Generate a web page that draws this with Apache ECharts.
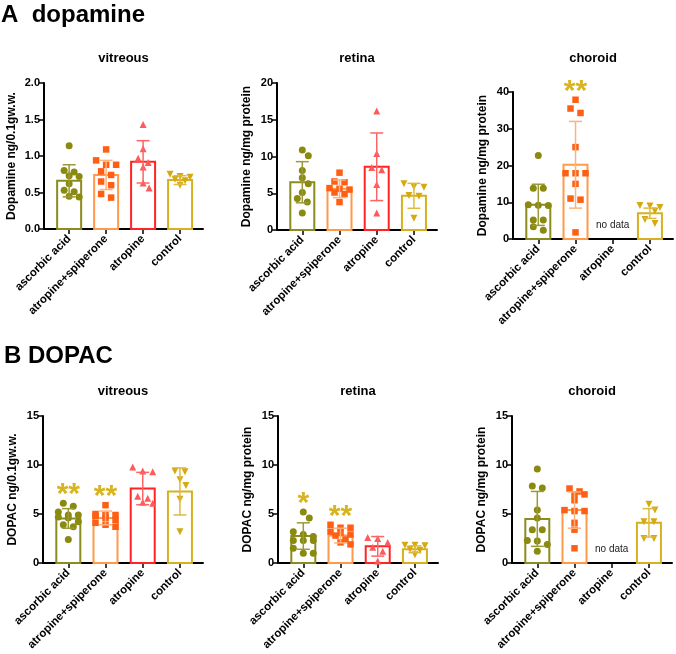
<!DOCTYPE html>
<html><head><meta charset="utf-8">
<script src="https://cdn.jsdelivr.net/npm/echarts@6/dist/echarts.min.js"></script>
<style>html,body{margin:0;padding:0;background:#fff}#c{width:676px;height:654px}</style>
</head><body><div id="c"></div>
<script>
const categories = ['ascorbic acid', 'atropine+spiperone', 'atropine', 'control'];

// ---- A dopamine : vitreous ----
const daVitMean = [0.66, 0.74, 0.92, 0.67];
const daVitSD = [0.22, 0.20, 0.29, 0.06];
const daVitAscorbic = [1.14, 0.80, 0.78, 0.73, 0.72, 0.62, 0.53, 0.51, 0.45, 0.44];
const daVitAtrSpip = [1.09, 0.94, 0.88, 0.88, 0.79, 0.74, 0.65, 0.60, 0.48, 0.43];
const daVitAtropine = [1.43, 1.10, 0.97, 0.91, 0.85, 0.63, 0.56];
const daVitControl = [0.75, 0.72, 0.71, 0.68, 0.66, 0.60];

// ---- A dopamine : retina ----
const daRetMean = [6.5, 5.6, 8.6, 4.65];
const daRetSD = [2.8, 1.2, 4.6, 1.7];
const daRetAscorbic = [10.9, 10.1, 8.1, 7.1, 6.3, 5.1, 4.3, 3.8, 2.3];
const daRetAtrSpip = [7.8, 6.6, 6.5, 5.7, 5.6, 5.5, 5.1, 4.9, 3.8];
const daRetAtropine = [16.2, 10.4, 8.5, 8.2, 6.2, 2.3];
const daRetControl = [6.3, 5.9, 5.8, 4.7, 4.6, 1.6];

// ---- A dopamine : choroid ----
const daChoMean = [9.3, 20.2, null, 7.0];
const daChoSD = [5.6, 11.8, null, 1.4];
const daChoAscorbic = [22.7, 13.8, 13.8, 9.3, 9.2, 9.1, 5.2, 5.2, 3.3, 2.4];
const daChoAtrSpip = [37.9, 35.5, 34.3, 25.0, 17.9, 17.9, 17.9, 15.0, 11.0, 10.7, 1.8];
const daChoAtropine = [];
const daChoControl = [9.1, 9.0, 8.6, 7.6, 5.3, 4.2];
const daChoSig = ['', '**', '', ''];

// ---- B DOPAC : vitreous ----
const dcVitMean = [4.55, 4.6, 7.6, 7.3];
const dcVitSD = [1.0, 0.7, 1.65, 2.4];
const dcVitAscorbic = [6.1, 5.8, 5.2, 4.9, 4.9, 4.7, 4.6, 4.2, 3.9, 3.7, 2.4];
const dcVitAtrSpip = [5.9, 5.0, 4.9, 4.9, 4.8, 4.6, 4.4, 4.1, 3.9, 3.7];
const dcVitAtropine = [9.8, 9.4, 9.3, 6.8, 6.6, 6.2, 6.1];
const dcVitControl = [9.4, 9.3, 8.5, 7.9, 6.5, 3.2];
const dcVitSig = ['**', '**', '', ''];

// ---- B DOPAC : retina ----
const dcRetMean = [2.75, 2.8, 1.7, 1.4];
const dcRetSD = [1.35, 0.75, 1.0, 0.35];
const dcRetAscorbic = [5.2, 4.6, 3.2, 2.9, 2.7, 2.3, 2.3, 2.3, 1.5, 1.0, 1.0];
const dcRetAtrSpip = [3.9, 3.6, 3.6, 3.2, 3.1, 2.9, 2.8, 2.4, 2.1, 1.9];
const dcRetAtropine = [2.6, 2.5, 2.1, 1.6, 1.2, 0.2];
const dcRetControl = [1.8, 1.8, 1.75, 1.4, 1.3, 0.85];
const dcRetSig = ['*', '**', '', ''];

// ---- B DOPAC : choroid ----
const dcChoMean = [4.5, 5.4, null, 4.1];
const dcChoSD = [2.8, 1.85, null, 1.45];
const dcChoAscorbic = [9.6, 7.85, 7.65, 5.4, 4.6, 3.4, 3.4, 2.3, 2.25, 1.9, 1.2];
const dcChoAtrSpip = [7.6, 7.3, 7.0, 7.0, 6.4, 5.4, 5.3, 5.3, 4.1, 3.4, 1.5];
const dcChoAtropine = [];
const dcChoControl = [6.0, 5.4, 4.2, 4.2, 2.5, 2.5];

const FONT = "'Liberation Sans', Arial, sans-serif";
const BAR_COLORS = ['#8C8C1E', '#FF9A4A', '#FF2424', '#D8B01E'];
const PT_COLORS = ['#8A8A10', '#FF5F14', '#FF5A5A', '#D4AA10'];
const ERR_COLORS = ['#9A9A36', '#FFB27C', '#FF6464', '#DDBA40'];
const SYMBOLS = ['circle', 'rect', 'triangle', 'triangle'];
const SYM_ROT = [0, 0, 0, 180];
const SYM_SIZE = [7, 6.5, 7, 7];
const SIG_COLOR = '#D8B41E';
const X_MIN = -0.68, X_MAX = 3.62;

const panels = [
  { title: 'vitreous', yName: 'Dopamine ng/0.1gw.w.', max: 2, interval: 0.5, dec: 1,
    mean: daVitMean, sd: daVitSD, pts: [daVitAscorbic, daVitAtrSpip, daVitAtropine, daVitControl], sig: null,
    grid: { left: 44, top: 83, width: 159, height: 146 }, nameGap: 26, titleY: 58 },
  { title: 'retina', yName: 'Dopamine ng/mg protein', max: 20, interval: 5, dec: 0,
    mean: daRetMean, sd: daRetSD, pts: [daRetAscorbic, daRetAtrSpip, daRetAtropine, daRetControl], sig: null,
    grid: { left: 277, top: 83, width: 160, height: 147 }, nameGap: 24, titleY: 58 },
  { title: 'choroid', yName: 'Dopamine ng/mg protein', max: 40, interval: 10, dec: 0,
    mean: daChoMean, sd: daChoSD, pts: [daChoAscorbic, daChoAtrSpip, daChoAtropine, daChoControl], sig: daChoSig,
    grid: { left: 513, top: 92, width: 160, height: 147 }, nameGap: 24, titleY: 58 },
  { title: 'vitreous', yName: 'DOPAC ng/0.1gw.w.', max: 15, interval: 5, dec: 0,
    mean: dcVitMean, sd: dcVitSD, pts: [dcVitAscorbic, dcVitAtrSpip, dcVitAtropine, dcVitControl], sig: dcVitSig,
    grid: { left: 43, top: 416, width: 160, height: 147 }, nameGap: 24, titleY: 391 },
  { title: 'retina', yName: 'DOPAC ng/mg protein', max: 15, interval: 5, dec: 0,
    mean: dcRetMean, sd: dcRetSD, pts: [dcRetAscorbic, dcRetAtrSpip, dcRetAtropine, dcRetControl], sig: dcRetSig,
    grid: { left: 278, top: 416, width: 160, height: 147 }, nameGap: 24, titleY: 391 },
  { title: 'choroid', yName: 'DOPAC ng/mg protein', max: 15, interval: 5, dec: 0,
    mean: dcChoMean, sd: dcChoSD, pts: [dcChoAscorbic, dcChoAtrSpip, dcChoAtropine, dcChoControl], sig: null,
    grid: { left: 512, top: 416, width: 160, height: 147 }, nameGap: 24, titleY: 391 }
];

// row-based column-scatter layout: points closer than ~5px vertically share a
// row (max 3 per row, centred, 10px apart); a row that sits right under a row of
// the same parity is shifted half a step so markers interleave
function scatterOffsets(values, pxPerY) {
  const out = new Array(values.length).fill(0);
  const order = values.map((v, i) => i).sort((a, b) => values[b] - values[a]);
  const rows = [];
  let cur = null;
  for (const i of order) {
    const py = values[i] * pxPerY;
    if (cur && cur.top - py < 5 && cur.idx.length < 3) { cur.idx.push(i); cur.bottom = py; }
    else { cur = { top: py, bottom: py, idx: [i], shift: 0 }; rows.push(cur); }
  }
  rows.forEach((r, k) => {
    const n = r.idx.length;
    if (k > 0) {
      const prev = rows[k - 1];
      if (prev.bottom - r.top < 6.5 && (prev.idx.length % 2) === (n % 2)) {
        r.shift = prev.shift === 0 ? (n === 3 ? 0 : 5) : 0;
        if (n === 1 && prev.idx.length === 1) r.shift = prev.shift === 0 ? 6 : 0;
        if (n === 3 && prev.idx.length === 3) r.shift = 0;
      }
    }
    r.idx.forEach((i, j) => { out[i] = (j - (n - 1) / 2) * 10 + r.shift; });
  });
  return out;
}

const grids = [], xAxes = [], yAxes = [], series = [], graphics = [];
graphics.push({ type: 'text', x: 1, y: 3, style: { text: 'A  dopamine', font: 'bold 24px ' + FONT, fill: '#000', textVerticalAlign: 'top' } });
graphics.push({ type: 'text', x: 4, y: 344, style: { text: 'B DOPAC', font: 'bold 24px ' + FONT, fill: '#000', textVerticalAlign: 'top' } });

panels.forEach((p, k) => {
  grids.push(Object.assign({ outerBoundsMode: 'none', containLabel: false }, p.grid));
  const pxPerX = p.grid.width / (X_MAX - X_MIN);
  const pxPerY = p.grid.height / p.max;
  graphics.push({ type: 'text', x: p.grid.left + p.grid.width / 2, y: p.titleY,
    style: { text: p.title, font: 'bold 13px ' + FONT, fill: '#000', textAlign: 'center', textVerticalAlign: 'middle' } });
  xAxes.push({
    gridIndex: k, type: 'value', min: X_MIN, max: X_MAX,
    axisLine: { show: true, onZero: false, lineStyle: { color: '#000', width: 2 } },
    axisTick: { show: true, customValues: [0, 1, 2, 3], length: 5, lineStyle: { color: '#000', width: 1.5 } },
    axisLabel: { show: true, customValues: [0, 1, 2, 3], rotate: 45, margin: 8,
      formatter: v => categories[Math.round(v)], color: '#000', fontWeight: 'bold', fontSize: 11.5, fontFamily: FONT },
    splitLine: { show: false }
  });
  yAxes.push({
    gridIndex: k, type: 'value', min: 0, max: p.max, interval: p.interval,
    name: p.yName, nameLocation: 'middle', nameGap: p.nameGap,
    nameTextStyle: { color: '#000', fontWeight: 'bold', fontSize: 12, fontFamily: FONT },
    axisLine: { show: true, onZero: false, lineStyle: { color: '#000', width: 2 } },
    axisTick: { show: true, length: 5, lineStyle: { color: '#000', width: 1.5 } },
    axisLabel: { color: '#000', fontWeight: 'bold', fontSize: 11, fontFamily: FONT, margin: 4,
      formatter: v => v.toFixed(p.dec) },
    splitLine: { show: false }
  });
  // bars (means)
  const barData = [];
  p.mean.forEach((m, i) => { if (m != null) barData.push([i, m]); });
  series.push({
    type: 'custom', xAxisIndex: k, yAxisIndex: k, z: 2, data: barData, encode: { x: 0, y: 1 },
    renderItem: (params, api) => {
      const i = api.value(0), m = api.value(1);
      const top = api.coord([i, m]), base = api.coord([i, 0]);
      return { type: 'rect', shape: { x: top[0] - 12, y: top[1], width: 24, height: base[1] - top[1] },
        style: { fill: '#fff', stroke: BAR_COLORS[i], lineWidth: 2 } };
    }
  });
  // individual points
  p.pts.forEach((vals, i) => {
    if (!vals.length) return;
    const offs = scatterOffsets(vals, pxPerY);
    series.push({
      type: 'scatter', xAxisIndex: k, yAxisIndex: k, z: 3,
      symbol: SYMBOLS[i], symbolRotate: SYM_ROT[i], symbolSize: SYM_SIZE[i],
      itemStyle: { color: PT_COLORS[i], opacity: 1 },
      data: vals.map((v, j) => [i + offs[j] / pxPerX, v]),
      clip: false
    });
  });
  // error bars (mean ± SD)
  const errData = [];
  p.mean.forEach((m, i) => { if (m != null) errData.push([i, m, p.sd[i]]); });
  series.push({
    type: 'custom', xAxisIndex: k, yAxisIndex: k, z: 4, data: errData, encode: { x: 0, y: 1 },
    renderItem: (params, api) => {
      const i = api.value(0), m = api.value(1), s = api.value(2);
      const hi = api.coord([i, m + s]), lo = api.coord([i, Math.max(0, m - s)]);
      const st = { stroke: ERR_COLORS[i], lineWidth: 1.5 };
      return { type: 'group', children: [
        { type: 'line', shape: { x1: hi[0], y1: hi[1], x2: lo[0], y2: lo[1] }, style: st },
        { type: 'line', shape: { x1: hi[0] - 6.5, y1: hi[1], x2: hi[0] + 6.5, y2: hi[1] }, style: st },
        { type: 'line', shape: { x1: lo[0] - 6.5, y1: lo[1], x2: lo[0] + 6.5, y2: lo[1] }, style: st }
      ] };
    }
  });
  // annotations: significance stars above highest point, "no data" for empty group
  const annData = [], annText = [];
  p.pts.forEach((vals, i) => {
    if (p.sig && p.sig[i]) { annData.push([i, Math.max(...vals)]); annText.push(p.sig[i]); }
    if (p.mean[i] == null) { annData.push([i, 0]); annText.push('no data'); }
  });
  if (annData.length) {
    series.push({
      type: 'custom', xAxisIndex: k, yAxisIndex: k, z: 5, data: annData, encode: { x: 0, y: 1 },
      renderItem: (params, api) => {
        const t = annText[params.dataIndex];
        const c = api.coord([api.value(0), api.value(1)]);
        if (t === 'no data') {
          return { type: 'text', x: c[0], y: c[1] - 14,
            style: { text: t, font: '10px ' + FONT, fill: '#222', textAlign: 'center', textVerticalAlign: 'middle' } };
        }
        return { type: 'text', x: c[0], y: c[1] - 8,
          style: { text: t, font: 'bold 30px ' + FONT, fill: SIG_COLOR, textAlign: 'center', textVerticalAlign: 'middle' } };
      }
    });
  }
});

const chart = echarts.init(document.getElementById('c'), null, { renderer: 'canvas' });
chart.setOption({
  animation: false,
  backgroundColor: '#fff',
  grid: grids, xAxis: xAxes, yAxis: yAxes, series: series, graphic: graphics
});
</script></body></html>
